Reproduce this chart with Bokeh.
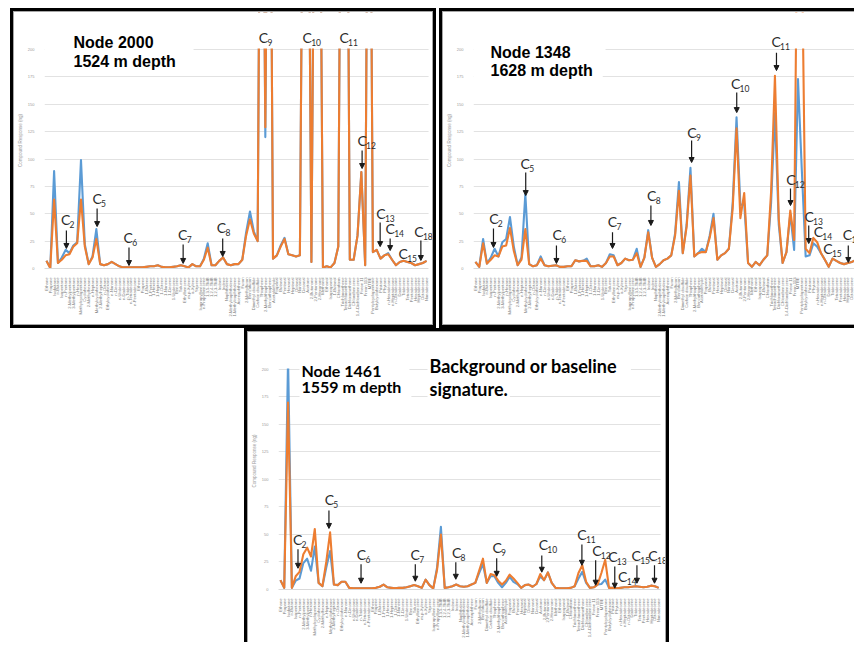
import math
from bokeh.plotting import figure
from bokeh.models import (Range1d, FixedTicker, ColumnDataSource, LabelSet, Label,
                          Arrow, NormalHead, Spacer, BoxAnnotation)
from bokeh.layouts import row, column
from bokeh.embed import file_html
from bokeh.resources import INLINE
from bokeh.core.properties import value

# ---------------- data ----------------
compounds = [
    "Ethane", "Propane", "Isobutane", "n-Butane", "Isopentane", "n-Pentane",
    "2-Methylpentane", "3-Methylpentane", "n-Hexane", "Methylcyclopentane",
    "Cyclohexane", "2-Methylhexane", "n-Heptane", "Methylcyclohexane",
    "2-Methylheptane", "n-Octane", "Ethylcyclohexane", "n-Nonane", "n-Decane",
    "n-Undecane", "n-Dodecane", "n-Tridecane", "n-Tetradecane", "n-Pentadecane",
    "Ethene", "Propene", "1-Butene", "1-Pentene", "1-Hexene", "1-Heptene",
    "1-Octene", "1-Nonene", "1-Decene", "1-Undecene", "Benzene", "Toluene",
    "Ethylbenzene", "m,p-Xylene", "o-Xylene", "Styrene", "Isopropylbenzene",
    "n-Propylbenzene", "1,3,5-TMB", "1,2,4-TMB", "1,2,3-TMB", "Indane", "Indene",
    "Naphthalene", "2-Methylnaphthalene", "1-Methylnaphthalene", "Acenaphthene",
    "Furan", "2-Methylfuran", "Benzofuran", "Dimethyl disulfide",
    "Carbon disulfide", "Thiophene", "2-Methylthiophene", "Benzothiophene",
    "Acetaldehyde", "Propanal", "Butanal", "Pentanal", "Hexanal", "Heptanal",
    "Octanal", "Nonanal", "Decanal", "Acetone", "2-Butanone", "2-Pentanone",
    "2-Hexanone", "Methanol", "Ethanol", "Isopropanol", "1-Butanol", "Chloroform",
    "Trichloroethene", "Tetrachloroethene", "Dichloromethane", "Chlorobenzene",
    "1,4-Dichlorobenzene", "Freon 11", "Freon 113", "MTBE", "Pentylcyclopentane",
    "Butylcyclohexane", "Pristane", "Phytane", "n-Hexadecane", "n-Heptadecane",
    "n-Octadecane", "Dodecene", "Tridecene", "Tetradecene", "Pentadecene",
    "Hexadecene", "Heptadecene", "Octadecene", "Nonadecane",
]
y_ticks = [0, 25, 50, 75, 100, 125, 150, 175, 200]
y_max = 200

# Node 2000 (1524 m)
n2000_blue = [7, 0.5, 89, 5, 10, 17, 14, 21, 24, 99, 22, 4, 11, 36, 4, 3, 4, 6, 4, 2,
              1, 1, 1, 1, 1, 1, 1.5, 2, 2, 3, 1.5, 1, 1, 1.5, 2, 3, 2, 1, 4, 2,
              2, 9, 23, 3, 3, 7, 10, 4, 3, 4, 4, 8, 33, 52, 34, 25, 600, 120, 600, 9,
              12, 21, 28, 13, 12, 11, 12, 500, 500, 6, 500, 500, 1, 2, 1, 5, 20, 600, 600, 8,
              8, 30, 88, 3, 600, 15, 17, 9, 12, 14, 8, 3, 6, 7, 6, 5, 3, 4, 5, 7]
n2000_orange = [7, 0.5, 63, 5, 8, 12, 13, 20, 23, 63, 20, 4, 10, 27, 4, 3, 4, 6, 4, 2,
                1, 1, 1, 1, 1, 1, 1.5, 2, 2, 3, 1.5, 1, 1, 1.5, 2, 3, 2, 1, 4, 2,
                2, 8, 19, 3, 3, 7, 10, 4, 3, 4, 4, 8, 30, 45, 32, 25, 600, 129, 600, 9,
                12, 20, 27, 13, 12, 11, 12, 500, 500, 6, 500, 500, 1, 2, 1, 5, 20, 600, 600, 8,
                8, 30, 88, 3, 600, 15, 17, 9, 12, 13, 8, 3, 6, 7, 6, 5, 3, 4, 5, 7]

# Node 1348 (1628 m)
n1348_blue = [6, 1.5, 27, 4.5, 10, 18, 11, 24, 27, 47, 20, 3, 10, 68, 4, 2, 3, 11, 3, 2,
              2.5, 3, 1.5, 1.5, 2, 2, 7.5, 6.5, 7, 9, 2, 2, 3, 1.5, 5, 13, 12, 3, 5, 9,
              7.5, 8, 18, 1.5, 10, 35, 10, 1.5, 4, 7.5, 9, 12, 32, 79, 14, 40, 92, 11, 14, 18,
              15, 30, 50, 8, 12, 14, 18, 60, 138, 58, 59, 5, 1.5, 6, 3, 8, 12, 60, 142, 40,
              5, 15, 50, 17, 173, 90, 11, 12, 23, 20, 14, 8, 1.5, 9, 7, 5, 4, 5, 6, 7.5]
n1348_orange = [6, 1.5, 23, 4.5, 8, 12, 11, 20, 21, 37, 16, 3, 8, 36, 4, 2, 3, 9, 3, 2,
                2.5, 3, 1.5, 1.5, 2, 2, 7.5, 6.5, 7, 7, 2, 2, 3, 1.5, 5, 11, 11, 3, 5, 9,
                7.5, 8, 14, 1.5, 10, 33, 10, 1.5, 4, 7.5, 9, 12, 30, 71, 14, 38, 85, 11, 14, 15,
                15, 28, 46, 8, 12, 14, 18, 55, 128, 46, 69, 5, 1.5, 6, 3, 8, 12, 70, 176, 45,
                5, 15, 53, 26, 400, 300, 18, 14, 28, 24, 14, 8, 1.5, 9, 7, 5, 4, 5, 6, 7.5]

# Node 1461 (1559 m)
n1461_blue = [8.5, 1.5, 210, 1.5, 8, 10, 24, 28, 17, 39, 6, 3, 20, 35, 4.5, 4, 7, 7, 1.5, 1,
              1, 1, 1, 1, 1, 1.5, 2.5, 4.5, 2, 1.5, 1, 1.5, 1.5, 2, 3, 4, 3, 1.5, 9, 4,
              1, 20, 57, 1.5, 2, 3, 4.5, 3, 2.5, 3, 4.5, 6, 15, 23, 6, 12, 12, 6, 2, 6,
              11.5, 7, 5, 1.5, 4, 4.5, 2.5, 5, 12, 8.5, 15.5, 6, 1.5, 1, 1, 1, 1.5, 3, 10, 16,
              6, 1.5, 2, 4.5, 5, 9, 1.5, 1.5, 1, 1.5, 2, 2, 2.5, 3, 2.5, 2, 2.5, 3.5, 3, 1.5]
n1461_orange = [8.5, 1.5, 170, 1.5, 12, 16, 32, 38, 30, 55, 6, 3, 25, 52, 4.5, 4, 7, 7, 1.5, 1,
                1, 1, 1, 1, 1, 1.5, 2.5, 4.5, 2, 1.5, 1, 1.5, 1.5, 2, 3, 4, 3, 1.5, 9, 4,
                1, 18, 50, 1.5, 2, 3, 4.5, 3, 2.5, 3, 4.5, 6, 17, 28, 6, 14, 13, 8, 4.5, 8,
                13.5, 10, 6, 1.5, 4, 4.5, 2.5, 5, 14, 8.5, 15.5, 6, 1.5, 1, 1, 1, 1.5, 3, 15, 22,
                7, 1.5, 2, 4.5, 15, 27, 1.5, 1.5, 1, 1.5, 2, 2, 2.5, 3, 2.5, 2, 2.5, 3.5, 3, 1.5]

# peak annotations (category position, response at text baseline, carbon number)
n2000_peak_pos = [5, 13.2, 21.3, 35.5, 45.6, 56.5, 67.9, 77.5, 82.2, 87.1, 89.5, 92.9, 97.0]
n2000_peak_val = [40, 59.3, 23, 26.2, 32.2, 205.7, 205.7, 205.7, 112.3, 45.4, 31.7, 8.9, 28.6]
n2000_peak_num = ["2", "5", "6", "7", "8", "9", "10", "11", "12", "13", "14", "15", "18"]
n2000_arrow_pos = [5.2, 13.2, 21.5, 35.6, 45.9, 82.2, 86.9, 89.5, 97.5]
n2000_arrow_top = [34.7, 54.8, 19.2, 21.9, 27.4, 107.7, 42, 27.4, 25.6]
n2000_arrow_tip = [18.3, 38.3, 2.7, 4.6, 11, 91.3, 20, 16.4, 7.3]

n1348_peak_pos = [4.8, 12.95, 21.3, 35.7, 45.9, 56.4, 67.75, 78.3, 82.15, 86.9, 89.3, 91.8, 96.9]
n1348_peak_val = [40.2, 91, 25.6, 38.3, 62, 119, 164, 202, 76.7, 42.3, 29.2, 13.4, 25.6]
n1348_peak_num = ["2", "5", "6", "7", "8", "9", "10", "11", "12", "13", "14", "15", "18"]
n1348_arrow_pos = [4.7, 13.1, 21.1, 35.7, 45.7, 56.3, 68.05, 78.4, 82.05, 86.8, 97.1]
n1348_arrow_top = [36.5, 87.6, 21, 33, 57.5, 116.9, 160.7, 197, 73, 39.3, 21]
n1348_arrow_tip = [19.2, 66.6, 4.6, 18.3, 39.3, 96.8, 142.4, 180.8, 57.5, 22.8, 5.5]

n1461_peak_pos = [4.5, 12.8, 21.2, 35.3, 46.1, 56.7, 68.8, 78.9, 82.8, 87, 89.6, 93.1, 97.5]
n1461_peak_val = [40.7, 76.9, 27.1, 27.1, 28.6, 33.1, 35.6, 44.6, 30.1, 24.7, 6.6, 25.6, 25.6]
n1461_peak_num = ["2", "5", "6", "7", "8", "9", "10", "11", "12", "13", "14", "15", "18"]
n1461_arrow_pos = [4.6, 12.7, 21.1, 35.3, 45.9, 56.6, 68.4, 78.9, 82.5, 87.5, 93.3, 97.9]
n1461_arrow_top = [36.5, 71.8, 22.9, 22.9, 24.7, 28.3, 31, 41, 26.5, 21, 22, 22]
n1461_arrow_tip = [19.3, 55.5, 5.7, 7.5, 9.3, 12, 15.7, 22, 3.9, 1.2, 5.7, 5.7]

BLUE = "#5B9BD5"
ORANGE = "#ED7D31"


def build(width, height, x_end, y_end, mb, blue, orange, ppos, pval, pnum,
          apos, atop, atip, titles):
    left, right, top, bottom = mb
    p = figure(width=width, height=height,
               x_range=Range1d(-0.5, x_end), y_range=Range1d(0, y_end),
               output_backend="svg", toolbar_location=None,
               min_border_left=left, min_border_right=right,
               min_border_top=top, min_border_bottom=bottom)
    p.outline_line_color = None
    p.background_fill_color = "white"
    p.border_fill_color = "white"

    cats = list(range(len(compounds)))
    p.xgrid.grid_line_color = None
    p.ygrid.ticker = FixedTicker(ticks=y_ticks)
    p.ygrid.grid_line_color = "#e2e2e2"
    p.ygrid.grid_line_width = 1

    p.xaxis.ticker = FixedTicker(ticks=cats)
    p.xaxis.major_label_overrides = {i: n for i, n in enumerate(compounds)}
    p.xaxis.major_label_orientation = math.pi / 2
    p.xaxis.major_label_text_font = "Liberation Sans"
    p.xaxis.major_label_text_font_size = "4.2px"
    p.xaxis.major_label_text_color = "#7a7a7a"
    p.xaxis.major_label_standoff = 3
    p.xaxis.major_tick_line_color = None
    p.xaxis.minor_tick_line_color = None
    p.xaxis.axis_line_color = "#d9d9d9"
    p.xaxis.bounds = (-0.5, len(compounds) - 0.5)

    p.yaxis.ticker = FixedTicker(ticks=y_ticks)
    p.yaxis.bounds = (0, y_max)
    p.yaxis.major_label_text_font_size = "4px"
    p.yaxis.major_label_text_color = "#9a9a9a"
    p.yaxis.major_label_standoff = 4
    p.yaxis.major_tick_line_color = None
    p.yaxis.minor_tick_line_color = None
    p.yaxis.axis_line_color = None
    p.yaxis.axis_label = "Compound Response (ng)"
    p.yaxis.axis_label_text_font_size = "4.5px"
    p.yaxis.axis_label_text_font_style = "normal"
    p.yaxis.axis_label_text_color = "#9a9a9a"
    p.yaxis.axis_label_standoff = 2

    p.line(cats, blue, line_color=BLUE, line_width=2.1, line_join="round")
    p.line(cats, orange, line_color=ORANGE, line_width=2.1, line_join="round")

    # the chart's plot area ends at the axis maximum and at the last category
    p.add_layout(BoxAnnotation(bottom=y_max + 0.9, fill_color="white", fill_alpha=1,
                               line_color=None))
    p.add_layout(BoxAnnotation(left=len(compounds) - 0.5, fill_color="white",
                               fill_alpha=1, line_color=None))

    for (tx, ty, txt, font, size, pad) in titles:
        p.add_layout(Label(x=tx, y=ty, text=txt, text_font=font, text_font_style="bold",
                           text_font_size=size, text_color="black",
                           text_align="left", text_baseline="alphabetic",
                           background_fill_color="white",
                           padding=dict(left=pad[0], right=pad[1], top=pad[2], bottom=pad[3])))

    src = ColumnDataSource(dict(x=ppos, y=pval, c=["C"] * len(pnum), sub=pnum))
    p.add_layout(LabelSet(source=src, x="x", y="y", text="c",
                          text_font=value("Lato"), text_font_size=value("14px"),
                          text_color="#2b2b2b", text_align="center",
                          text_baseline="alphabetic"))
    p.add_layout(LabelSet(source=src, x="x", y="y", text="sub", x_offset=4, y_offset=-3,
                          text_font=value("Lato"), text_font_size=value("8.5px"),
                          text_color="#2b2b2b", text_align="left",
                          text_baseline="alphabetic"))
    asrc = ColumnDataSource(dict(x=apos, y0=atop, y1=atip))
    p.add_layout(Arrow(source=asrc, x_start="x", y_start="y0", x_end="x", y_end="y1",
                       line_color="#1a1a1a", line_width=1.2,
                       end=NormalHead(size=5, fill_color="#1a1a1a", line_color="#1a1a1a")))
    return p


f1 = build(420, 314, 101.05, 233.8, (26, 0, 0, 58), n2000_blue, n2000_orange,
           n2000_peak_pos, n2000_peak_val, n2000_peak_num,
           n2000_arrow_pos, n2000_arrow_top, n2000_arrow_tip,
           [(-0.5, 206.5, "Node 2000", "Liberation Sans", "16px", (29, 40, 0, 0)),
            (-0.5, 189.5, "1524 m depth", "Liberation Sans", "16px", (29, 18, 0, 0))])
f2 = build(412, 314, 98.98, 233.8, (26, 0, 0, 58), n1348_blue, n1348_orange,
           n1348_peak_pos, n1348_peak_val, n1348_peak_num,
           n1348_arrow_pos, n1348_arrow_top, n1348_arrow_tip,
           [(-0.5, 197.5, "Node 1348", "Liberation Sans", "16px", (17, 35, 0, 0)),
            (-0.5, 181.0, "1628 m depth", "Liberation Sans", "16px", (17, 10, 0, 0))])
f3 = build(419, 311, 101.3, 233.6, (27, 0, 0, 54), n1461_blue, n1461_orange,
           n1461_peak_pos, n1461_peak_val, n1461_peak_num,
           n1461_arrow_pos, n1461_arrow_top, n1461_arrow_tip,
           [(5.0, 199.5, "Node 1461", "Lato", "16px", (2, 28, 0, 0)),
            (5.0, 182.0, "1559 m depth", "Lato", "16px", (2, 10, 0, 5)),
            (38.5, 203.5, "Background or baseline", "Lato", "18px", (2, 14, 0, 0)),
            (38.5, 182.0, "signature.", "Lato", "18px", (2, 2, 0, 0))])

f1.styles = {"border": "1px solid #a6a6a6"}
f2.styles = {"border": "1px solid #a6a6a6", "border-right": "none"}
f3.styles = {"border": "1px solid #a6a6a6", "border-bottom": "none"}

c1 = column(f1, styles={"border": "3px solid #000"})
c2 = column(f2, styles={"border": "3px solid #000", "border-right": "none"})
c3 = column(f3, styles={"border": "3px solid #000", "border-bottom": "none"})

top_row = row(Spacer(width=10, height=10), c1, Spacer(width=3, height=10), c2)
bottom_row = row(Spacer(width=244, height=10), c3)
page = column(Spacer(width=10, height=8), top_row, bottom_row)

open("out.html", "w").write(file_html(page, INLINE))
